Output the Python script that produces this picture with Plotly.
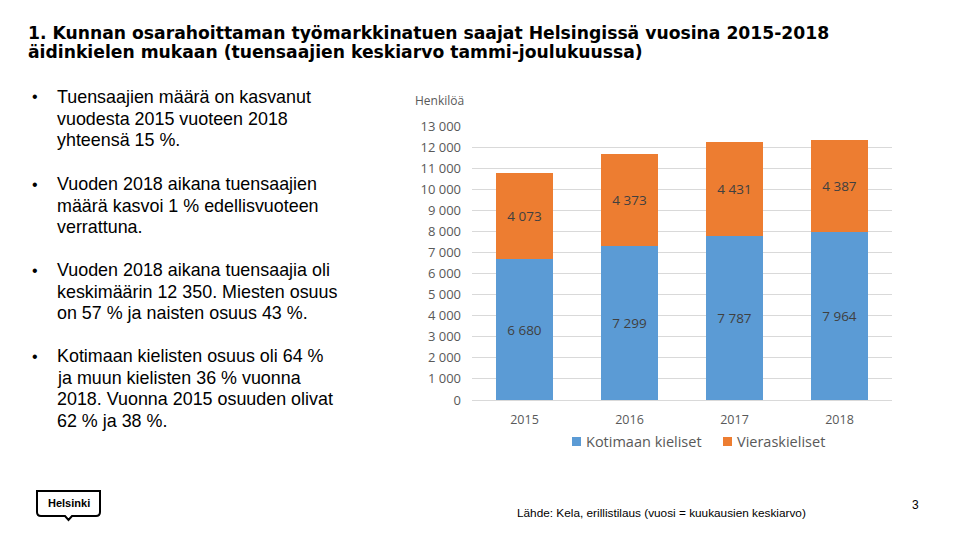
import plotly.graph_objects as go

years = ["2015", "2016", "2017", "2018"]
kotimaan = [6680, 7299, 7787, 7964]
vieraskieliset = [4073, 4373, 4431, 4387]
series_names = ["Kotimaan kieliset", "Vieraskieliset"]
series_colors = ["#5B9BD5", "#ED7D31"]
tick_vals = list(range(0, 14000, 1000))
tick_text = [f"{v:,}".replace(",", " ") for v in tick_vals]

title_lines = [
    "1. Kunnan osarahoittaman työmarkkinatuen saajat Helsingissä vuosina 2015-2018",
    "äidinkielen mukaan (tuensaajien keskiarvo tammi-joulukuussa)",
]
bullets = [
    ["Tuensaajien määrä on kasvanut", "vuodesta 2015 vuoteen 2018", "yhteensä 15 %."],
    ["Vuoden 2018 aikana tuensaajien", "määrä kasvoi 1 % edellisvuoteen", "verrattuna."],
    ["Vuoden 2018 aikana tuensaajia oli", "keskimäärin 12 350. Miesten osuus", "on 57 % ja naisten osuus 43 %."],
    ["Kotimaan kielisten osuus oli 64 %", "ja muun kielisten 36 % vuonna", "2018. Vuonna 2015 osuuden olivat", "62 % ja 38 %."],
]
source_text = "Lähde: Kela, erillistilaus (vuosi = kuukausien keskiarvo)"

W, H = 960, 540
def px(x): return x / W
def py(y): return 1 - y / H

def fmt(v):
    return f"{v:,}".replace(",", " ")

fig = go.Figure()
for name, vals, col in zip(series_names, [kotimaan, vieraskieliset], series_colors):
    fig.add_trace(go.Bar(
        x=years, y=vals, name=name,
        marker=dict(color=col, line=dict(width=0)),
        text=[fmt(v) for v in vals], textposition="inside",
        insidetextanchor="middle",
        textfont=dict(color="#404040", size=13.5, family="Open Sans"),
        showlegend=False,
    ))

annotations = []
# Title
for i, line in enumerate(title_lines):
    annotations.append(dict(
        text=f"<b>{line}</b>", x=px(26), y=py(33 + 19 * i), xref="paper", yref="paper",
        xanchor="left", yanchor="middle", showarrow=False,
        font=dict(family="DejaVu Sans", size=17.2, color="#000000"),
    ))
# Bullets
starts = [97, 184, 270, 356]
for b, y0 in zip(bullets, starts):
    annotations.append(dict(
        text="•", x=px(30), y=py(y0), xref="paper", yref="paper",
        xanchor="left", yanchor="middle", showarrow=False,
        font=dict(family="Liberation Sans", size=16, color="#000000"),
    ))
    for j, line in enumerate(b):
        annotations.append(dict(
            text=line, x=px(55), y=py(y0 + 21.5 * j), xref="paper", yref="paper",
            xanchor="left", yanchor="middle", showarrow=False,
            font=dict(family="Liberation Sans", size=17.9, color="#000000"),
        ))
# Axis title
annotations.append(dict(
    text="Henkilöä", x=px(413), y=py(101), xref="paper", yref="paper",
    xanchor="left", yanchor="middle", showarrow=False,
    font=dict(family="Open Sans", size=12, color="#595959"),
))
# Legend (drawn manually for exact spacing)
shapes = []
leg_x = [572, 723]
for name, col, lx in zip(series_names, series_colors, leg_x):
    shapes.append(dict(type="rect", xref="paper", yref="paper",
                       x0=px(lx), x1=px(lx + 9), y0=py(446), y1=py(437),
                       fillcolor=col, line=dict(width=0)))
    annotations.append(dict(
        text=name, x=px(lx + 12), y=py(441), xref="paper", yref="paper",
        xanchor="left", yanchor="middle", showarrow=False,
        font=dict(family="Open Sans", size=14.5, color="#595959"),
    ))
# Source
annotations.append(dict(
    text=source_text, x=px(515), y=py(513), xref="paper", yref="paper",
    xanchor="left", yanchor="middle", showarrow=False,
    font=dict(family="Liberation Sans", size=11.8, color="#000000"),
))
# Page number
annotations.append(dict(
    text="3", x=px(915), y=py(505), xref="paper", yref="paper",
    xanchor="center", yanchor="middle", showarrow=False,
    font=dict(family="Liberation Sans", size=12, color="#000000"),
))
# Logo text
annotations.append(dict(
    text="<b>Helsinki</b>", x=px(68.5), y=py(503), xref="paper", yref="paper",
    xanchor="center", yanchor="middle", showarrow=False,
    font=dict(family="Liberation Sans", size=11, color="#000000"),
))

def P(x, y):
    return f"{px(x):.5f},{py(y):.5f}"

logo_path = (
    f"M {P(37,491)} L {P(100,491)} L {P(100,512)} "
    f"Q {P(100,516)} {P(96,516)} L {P(72,516)} L {P(68.5,520)} L {P(65,516)} "
    f"L {P(41,516)} Q {P(37,516)} {P(37,512)} Z"
)
shapes.append(dict(type="path", path=logo_path, xref="paper", yref="paper",
                   line=dict(color="#000000", width=2), fillcolor="rgba(0,0,0,0)"))

fig.update_layout(
    width=W, height=H,
    margin=dict(l=0, r=0, t=0, b=0, autoexpand=False),
    paper_bgcolor="#FFFFFF", plot_bgcolor="#FFFFFF",
    barmode="stack", bargap=0.45,
    showlegend=False,
    xaxis=dict(
        domain=[px(472), px(892)], range=[-0.5, 3.5],
        showgrid=False, showline=False, ticks="",
        tickfont=dict(family="Open Sans", size=12.5, color="#595959"),
        ticklabelstandoff=10,
    ),
    yaxis=dict(
        domain=[py(400), py(126)], range=[0, 13000],
        tickvals=tick_vals, ticktext=tick_text,
        showgrid=True, gridcolor="#D9D9D9", gridwidth=1,
        zeroline=True, zerolinecolor="#D9D9D9", zerolinewidth=1,
        showline=False, ticks="",
        tickfont=dict(family="Open Sans", size=13, color="#595959"),
        ticklabelstandoff=10,
    ),
    annotations=annotations,
    shapes=shapes,
    uniformtext=dict(minsize=8, mode="show"),
)

fig.write_html("out.html")
